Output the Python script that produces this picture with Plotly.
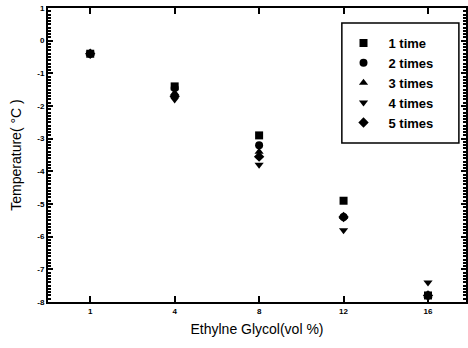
import plotly.graph_objects as go

categories = ["1", "4", "8", "12", "16"]
series_names = ["1 time", "2 times", "3 times", "4 times", "5 times"]
t1 = [-0.4, -1.4, -2.9, -4.9, -7.8]
t2 = [-0.4, -1.45, -3.2, -5.4, -7.8]
t3 = [-0.4, -1.6, -3.4, -5.4, -7.8]
t4 = [-0.4, -1.8, -3.8, -5.8, -7.4]
t5 = [-0.4, -1.7, -3.55, -5.4, -7.8]
symbols = ["square", "circle", "triangle-up", "triangle-down", "diamond"]
y_ticks = [1, 0, -1, -2, -3, -4, -5, -6, -7, -8]

fig = go.Figure()
for i, (name, vals, sym) in enumerate(zip(series_names, [t1, t2, t3, t4, t5], symbols)):
    fig.add_trace(go.Scatter(
        x=categories, y=vals, mode="markers", name=name,
        marker=dict(symbol=sym, size=8, color="black"),
    ))

axis_common = dict(
    showline=True, linecolor="black", linewidth=2, mirror="ticks",
    ticks="inside", tickcolor="black", showgrid=False, zeroline=False,
    automargin=False,
)
fig.update_xaxes(
    type="category", range=[-0.5, 4.45], ticklen=6, tickwidth=1.5,
    tickfont=dict(family="Arial", size=8, color="black", weight="bold"),
    title=dict(text="Ethylne Glycol(vol %)", font=dict(family="Arial", size=14, color="black"), standoff=10),
    **axis_common,
)
fig.update_yaxes(
    range=[-8, 1], tickvals=y_ticks, ticktext=[str(v) for v in y_ticks],
    ticklen=5, tickwidth=1.5,
    minor=dict(dtick=0.1, ticklen=3, tickcolor="black", ticks="inside"),
    tickfont=dict(family="Arial", size=8, color="black", weight="bold"),
    title=dict(text="Temperature( °C )", font=dict(family="Arial", size=14, color="black"), standoff=12),
    **axis_common,
)
# legend frame
fig.add_shape(type="rect", xref="paper", yref="paper",
              x0=0.703, x1=0.983, y0=0.541, y1=0.949,
              line=dict(color="black", width=1.5), fillcolor="white", layer="below")
fig.update_layout(
    width=468, height=348,
    margin=dict(l=48, r=2, t=8, b=46),
    plot_bgcolor="white", paper_bgcolor="white",
    legend=dict(
        x=0.695, y=0.745, xanchor="left", yanchor="middle",
        borderwidth=0, bgcolor="rgba(0,0,0,0)",
        font=dict(family="Arial", size=13, color="black", weight="bold"),
        itemwidth=40,
    ),
    showlegend=True,
)
fig.write_html("out.html", config={"displayModeBar": False},
               post_script="document.body.style.margin='0';")
